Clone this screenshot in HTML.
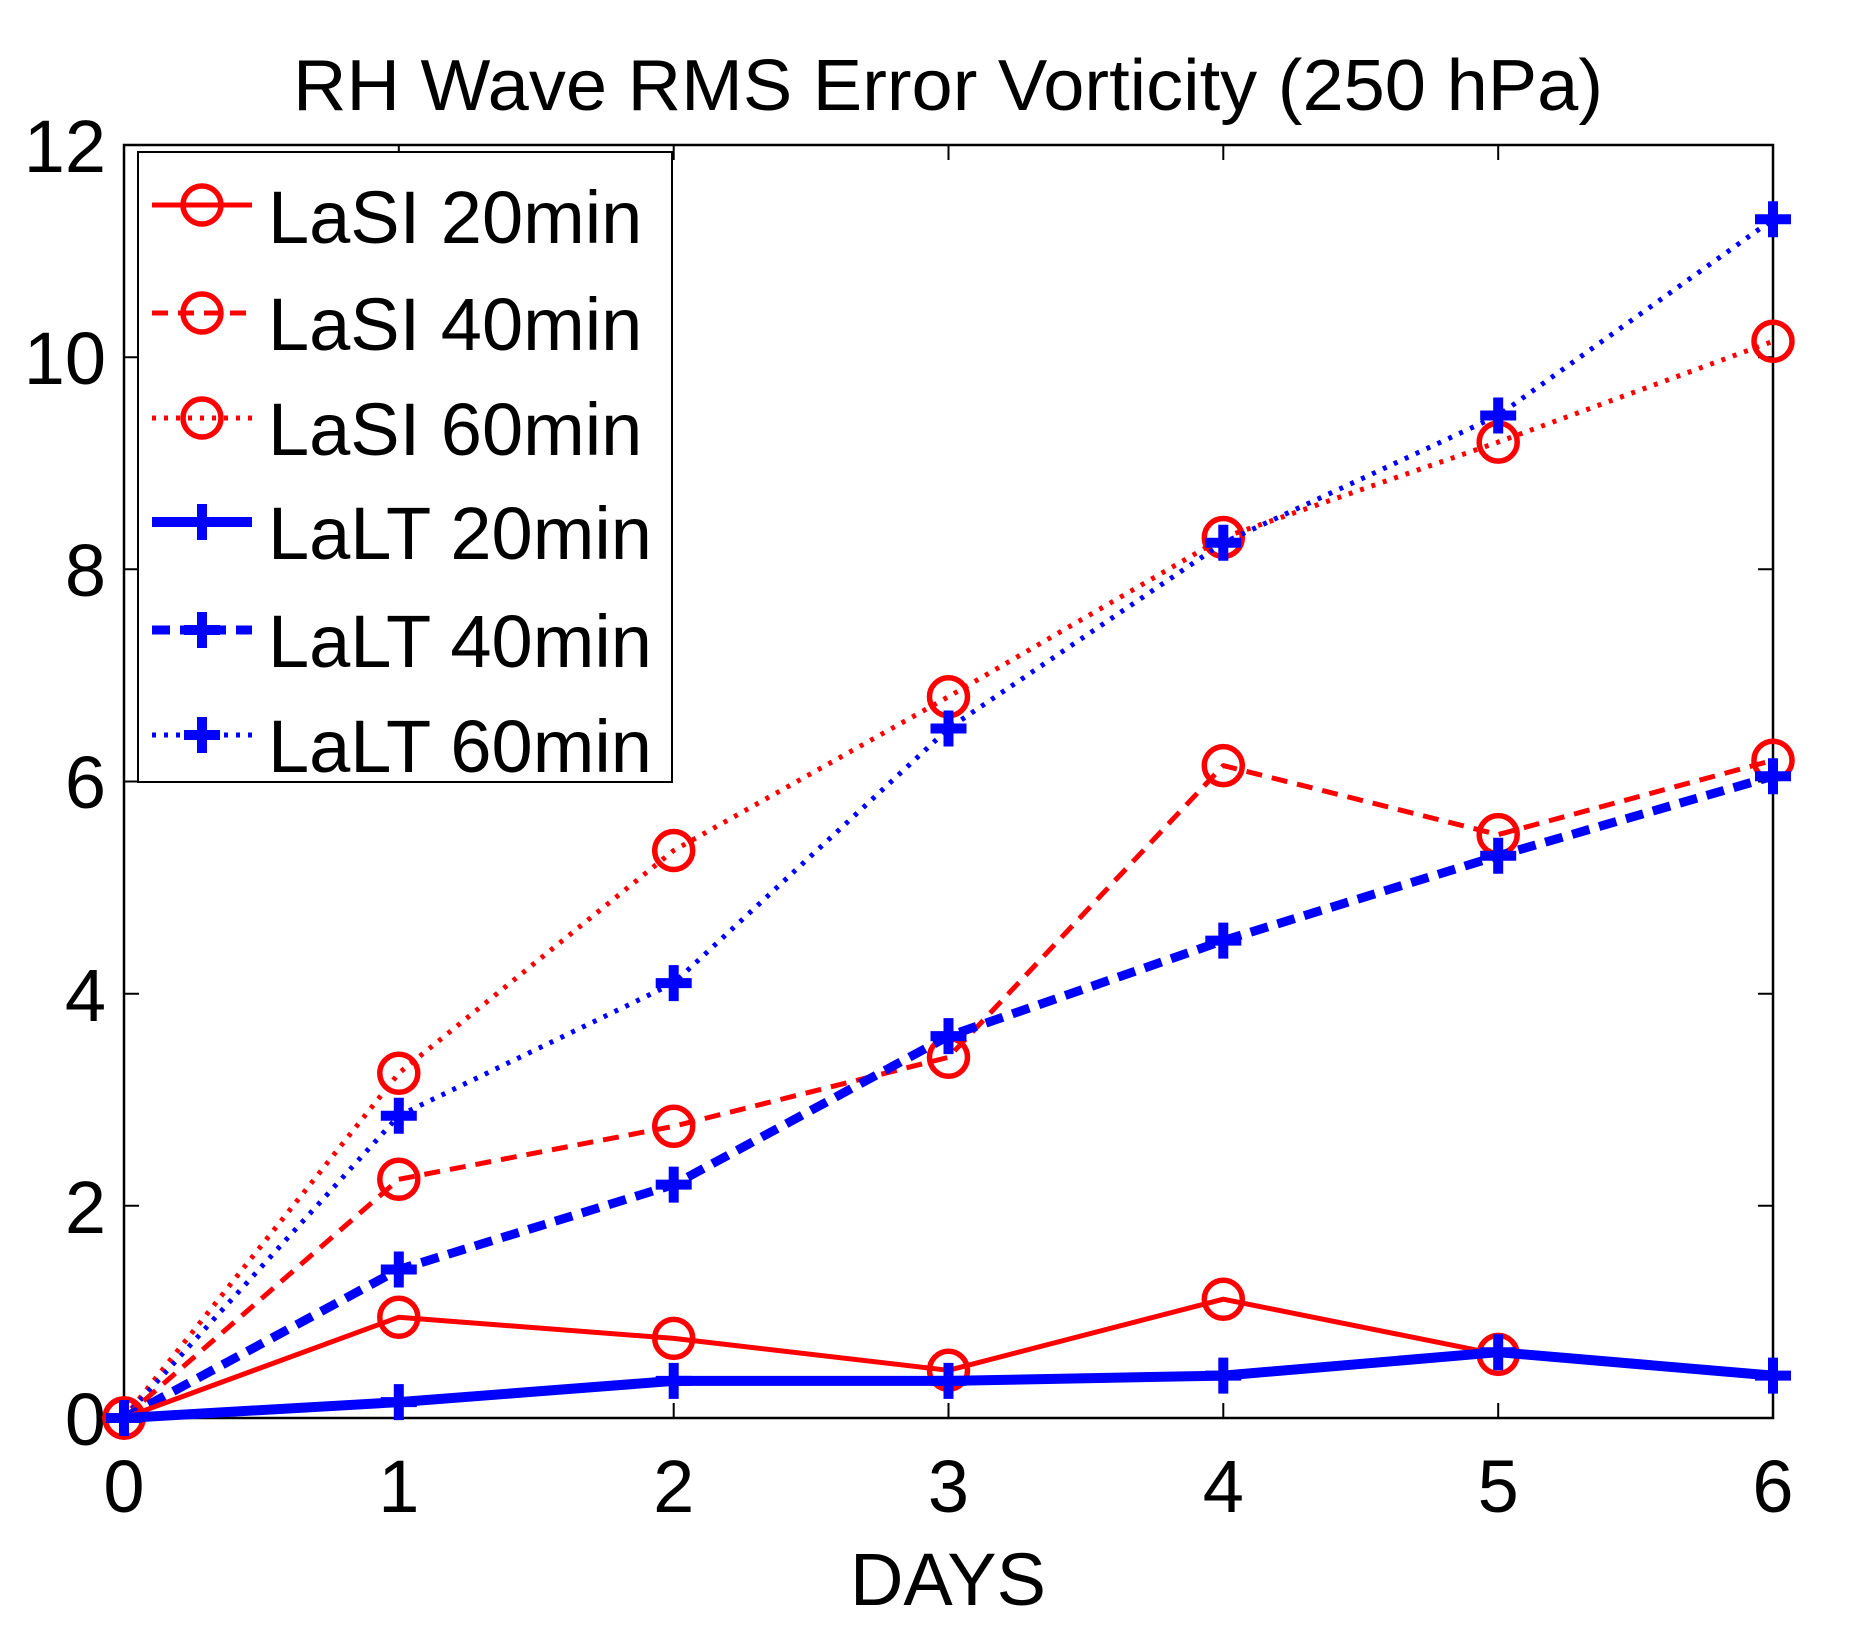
<!DOCTYPE html>
<html><head><meta charset="utf-8"><style>
html,body{margin:0;padding:0;background:#fff;}
svg{display:block;}
text{font-family:"Liberation Sans",sans-serif;fill:#000;}
</style></head><body>
<svg width="1863" height="1633" viewBox="0 0 1863 1633" xmlns="http://www.w3.org/2000/svg">
<defs>
<marker id="c" markerUnits="userSpaceOnUse" markerWidth="60" markerHeight="60" refX="30" refY="30" overflow="visible">
<circle cx="30" cy="30" r="19" fill="none" stroke="#f00" stroke-width="5.5"/>
</marker>
<marker id="p" markerUnits="userSpaceOnUse" markerWidth="60" markerHeight="60" refX="30" refY="30" overflow="visible">
<path d="M12 30H48M30 12V48" stroke="#00f" stroke-width="10" fill="none"/>
</marker>
</defs>
<rect width="1863" height="1633" fill="#fff"/>
<text x="948" y="110" font-size="72" text-anchor="middle" textLength="1310" lengthAdjust="spacingAndGlyphs">RH Wave RMS Error Vorticity (250 hPa)</text>
<rect x="124" y="145" width="1649" height="1273" fill="none" stroke="#000" stroke-width="2.5"/>
<g stroke="#000" stroke-width="2">
<path d="M398.8 1418v-15M673.7 1418v-15M948.5 1418v-15M1223.3 1418v-15M1498.2 1418v-15
M398.8 145v15M673.7 145v15M948.5 145v15M1223.3 145v15M1498.2 145v15
M124 1205.8h15M124 993.7h15M124 781.5h15M124 569.3h15M124 357.2h15
M1773 1205.8h-15M1773 993.7h-15M1773 781.5h-15M1773 569.3h-15M1773 357.2h-15"/>
</g>
<g font-size="74" text-anchor="end">
<text x="106" y="1445">0</text>
<text x="106" y="1233">2</text>
<text x="106" y="1021">4</text>
<text x="106" y="808">6</text>
<text x="106" y="596">8</text>
<text x="106" y="384">10</text>
<text x="106" y="172">12</text>
</g>
<g font-size="74" text-anchor="middle">
<text x="124" y="1512">0</text>
<text x="398.8" y="1512">1</text>
<text x="673.7" y="1512">2</text>
<text x="948.5" y="1512">3</text>
<text x="1223.3" y="1512">4</text>
<text x="1498.2" y="1512">5</text>
<text x="1773" y="1512">6</text>
</g>
<text x="948" y="1605" font-size="74" text-anchor="middle">DAYS</text>
<g fill="none" stroke-linejoin="round">
<polyline stroke="#f00" stroke-width="5" stroke-dasharray="4 8" marker-start="url(#c)" marker-mid="url(#c)" marker-end="url(#c)"
 points="124,1418 398.8,1073.2 673.7,850.5 948.5,696.7 1223.3,537.5 1498.2,442.1 1773,341.3"/>
<polyline stroke="#00f" stroke-width="5" stroke-dasharray="4 8" marker-start="url(#p)" marker-mid="url(#p)" marker-end="url(#p)"
 points="124,1418 398.8,1115.7 673.7,983.1 948.5,728.5 1223.3,542.8 1498.2,415.5 1773,219.3"/>
<polyline stroke="#f00" stroke-width="5" stroke-dasharray="16 10" marker-start="url(#c)" marker-mid="url(#c)" marker-end="url(#c)"
 points="124,1418 398.8,1179.3 673.7,1126.3 948.5,1057.3 1223.3,765.6 1498.2,834.6 1773,760.3"/>
<polyline stroke="#00f" stroke-width="9" stroke-dasharray="18 10" marker-start="url(#p)" marker-mid="url(#p)" marker-end="url(#p)"
 points="124,1418 398.8,1269.5 673.7,1184.6 948.5,1036.1 1223.3,940.6 1498.2,855.8 1773,776.2"/>
<polyline stroke="#f00" stroke-width="5" marker-start="url(#c)" marker-mid="url(#c)" marker-end="url(#c)"
 points="124,1418 398.8,1317.2 673.7,1338.4 948.5,1370.3 1223.3,1299.2 1498.2,1354.4"/>
<polyline stroke="#00f" stroke-width="10" marker-start="url(#p)" marker-mid="url(#p)" marker-end="url(#p)"
 points="124,1418 398.8,1402.1 673.7,1380.9 948.5,1380.9 1223.3,1375.6 1498.2,1352.2 1773,1375.6"/>
</g>
<rect x="138" y="152" width="534" height="630" fill="#fff" stroke="#000" stroke-width="2"/>
<g fill="none">
<path d="M152 205H252" stroke="#f00" stroke-width="5"/>
<circle cx="202" cy="205" r="19" stroke="#f00" stroke-width="5.5"/>
<path d="M152 313H252" stroke="#f00" stroke-width="5" stroke-dasharray="16 10"/>
<circle cx="202" cy="313" r="19" stroke="#f00" stroke-width="5.5"/>
<path d="M152 418H252" stroke="#f00" stroke-width="5" stroke-dasharray="4 8"/>
<circle cx="202" cy="418" r="19" stroke="#f00" stroke-width="5.5"/>
<path d="M152 522H252" stroke="#00f" stroke-width="10"/>
<path d="M184 522H220M202 504V540" stroke="#00f" stroke-width="10"/>
<path d="M152 630H252" stroke="#00f" stroke-width="9" stroke-dasharray="18 10"/>
<path d="M184 630H220M202 612V648" stroke="#00f" stroke-width="10"/>
<path d="M152 735H252" stroke="#00f" stroke-width="5" stroke-dasharray="4 8"/>
<path d="M184 735H220M202 717V753" stroke="#00f" stroke-width="10"/>
</g>
<g font-size="74">
<text x="268" y="243">LaSI 20min</text>
<text x="268" y="350">LaSI 40min</text>
<text x="268" y="455">LaSI 60min</text>
<text x="268" y="559">LaLT 20min</text>
<text x="268" y="667">LaLT 40min</text>
<text x="268" y="772">LaLT 60min</text>
</g>
</svg>
</body></html>
